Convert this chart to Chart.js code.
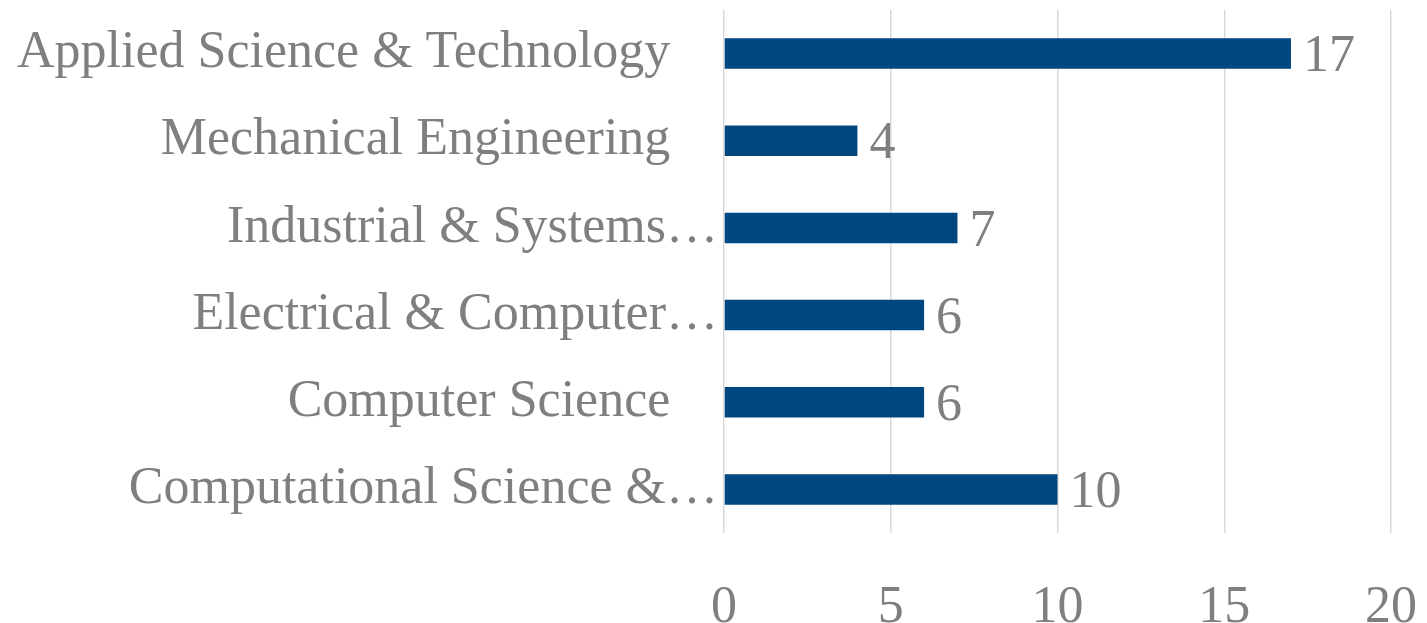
<!DOCTYPE html>
<html>
<head>
<meta charset="utf-8">
<script src="https://cdn.jsdelivr.net/npm/chart.js@4/dist/chart.umd.min.js"></script>
<style>
  html, body { margin: 0; padding: 0; background: #ffffff; }
  #wrap { width: 1427px; height: 623px; position: relative; }
</style>
</head>
<body>
<div id="wrap"><canvas id="c"></canvas></div>
<script>
const categories = [
  "Applied Science & Technology",
  "Mechanical Engineering",
  "Industrial & Systems…",
  "Electrical & Computer…",
  "Computer Science",
  "Computational Science &…"
];
const counts = [17, 4, 7, 6, 6, 10];
const xTicks = [0, 5, 10, 15, 20];

const FONT = "'Liberation Serif', 'DejaVu Serif', serif";
const FONT_SIZE = 52;
const GREY = "#7f7f7f";
const BAR = "#00467f";

const valueLabels = {
  id: "valueLabels",
  afterDatasetsDraw(chart) {
    const ctx = chart.ctx;
    const meta = chart.getDatasetMeta(0);
    ctx.save();
    ctx.font = FONT_SIZE + "px " + FONT;
    ctx.fillStyle = GREY;
    ctx.textAlign = "left";
    ctx.textBaseline = "middle";
    meta.data.forEach((bar, i) => {
      ctx.fillText(String(counts[i]), bar.x + 12, bar.y + 4);
    });
    ctx.restore();
  }
};

new Chart(document.getElementById("c"), {
  type: "bar",
  data: {
    labels: categories,
    datasets: [{
      data: counts,
      backgroundColor: BAR,
      borderWidth: 0,
      categoryPercentage: 1,
      barPercentage: 0.35
    }]
  },
  options: {
    indexAxis: "y",
    responsive: true,
    maintainAspectRatio: false,
    animation: false,
    layout: { padding: { top: 10, right: 36, left: 0, bottom: 0 } },
    plugins: { legend: { display: false }, tooltip: { enabled: false } },
    scales: {
      x: {
        min: 0, max: 20,
        afterBuildTicks(scale) { scale.ticks = xTicks.map(v => ({ value: v })); },
        afterFit(scale) { scale.height = 90; scale.paddingLeft = 0; scale.paddingRight = 0; },
        grid: { color: "#d9d9d9", lineWidth: 1.5, drawTicks: false },
        border: { display: false },
        ticks: { color: GREY, font: { family: FONT, size: FONT_SIZE }, padding: 44 }
      },
      y: {
        afterFit(scale) { scale.width = 724; scale.paddingTop = 0; scale.paddingBottom = 0; },
        grid: { display: false, drawTicks: false },
        border: { display: false },
        ticks: {
          color: GREY,
          font: { family: FONT, size: FONT_SIZE },
          padding: 6,
          callback(value, index) {
            const t = categories[index];
            return t.endsWith("…") ? t : t + "\u2002\u2005\u2006";
          }
        }
      }
    }
  },
  plugins: [valueLabels]
});
</script>
</body>
</html>
